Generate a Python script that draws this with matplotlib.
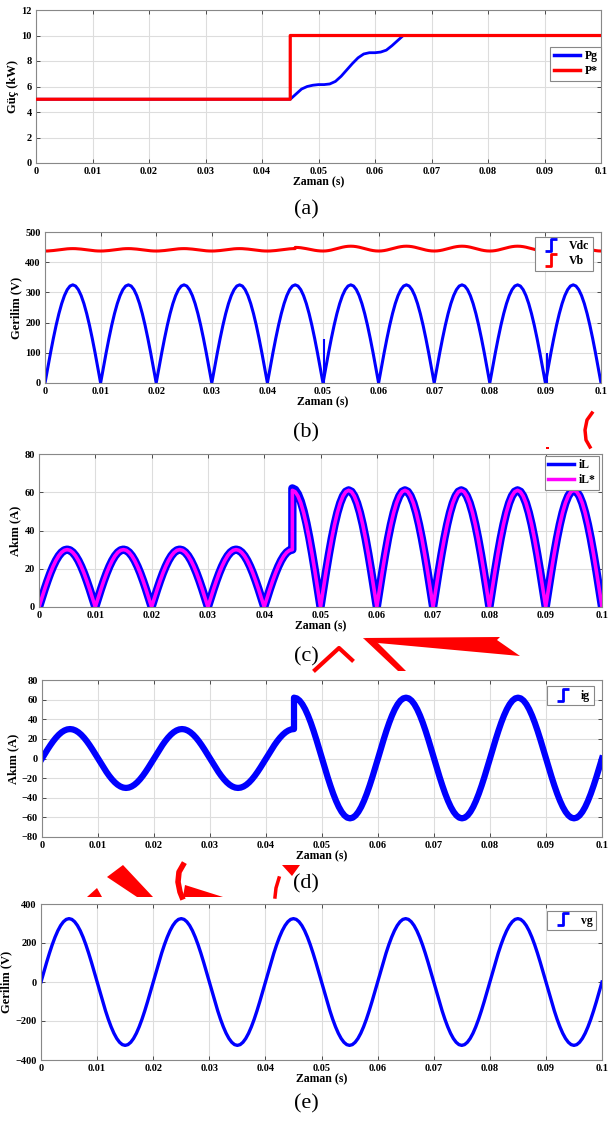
import numpy as np
import matplotlib
matplotlib.use("Agg")
import matplotlib.pyplot as plt
from matplotlib.lines import Line2D
from matplotlib.path import Path
from matplotlib.patches import Polygon
from matplotlib.transforms import Affine2D

# ---- data ----
# shape of one half-cycle (0.5 ms steps over 10 ms), peak = 1
HALF_SHAPE = [0, 0.156, 0.309, 0.454, 0.588, 0.707, 0.809, 0.891, 0.951, 0.988, 1.0,
              0.988, 0.951, 0.891, 0.809, 0.707, 0.588, 0.454, 0.309, 0.156, 0]
# ripple shape of Vb over one half-cycle, 0 at the edges, 1 in the middle
RIPPLE_SHAPE = [0, 0.024, 0.095, 0.206, 0.345, 0.5, 0.655, 0.794, 0.905, 0.976, 1.0,
                0.976, 0.905, 0.794, 0.655, 0.5, 0.345, 0.206, 0.095, 0.024, 0]
HALF_T = 0.01

# (a) power
pg_t = [0, 0.045, 0.046, 0.047, 0.048, 0.049, 0.050, 0.051, 0.052, 0.053, 0.054, 0.055,
        0.056, 0.057, 0.058, 0.059, 0.060, 0.061, 0.062, 0.063, 0.064, 0.065, 0.1]
pg_v = [5, 5, 5.4, 5.8, 6.0, 6.1, 6.15, 6.15, 6.2, 6.4, 6.8, 7.3,
        7.8, 8.25, 8.55, 8.65, 8.65, 8.7, 8.85, 9.2, 9.6, 10, 10]
pref_t = [0, 0.045, 0.045, 0.1]
pref_v = [5, 5, 10, 10]

# (b) voltages: peak of each half-cycle (rise, fall)
vdc_peaks = [(325, 325)] * 10
vdc_spike_t = [0.0502, 0.0902]
vdc_spike_v = [145, 100]
vb_base = 437
vb_ripple = [(8, 8)] * 4 + [(8, 12)] + [(16, 16)] * 5

# (c) inductor current
il_ref_peaks = [(30, 30)] * 4 + [(30, 61)] + [(61, 61)] * 5
il_peaks = [(30, 30)] * 4 + [(30, 62)] + [(61, 61)] * 5

# (d) grid current (signed)
ig_peaks = [(30, 30), (-30, -30), (30, 30), (-30, -30), (30, 62),
            (-61, -61), (62, 62), (-61, -61), (62, 62), (-61, -61)]

# (e) grid voltage (signed)
vg_peaks = [(325, 325), (-325, -325)] * 5

BLUE = "#0000ff"
RED = "#ff0000"
MAGENTA = "#ff00ff"


def build_wave(peaks, shape):
    t, y = [], []
    n = len(shape) - 1
    mid = n // 2
    for h, (rise, fall) in enumerate(peaks):
        for k in range(n + 1):
            if h > 0 and k == 0:
                continue
            tk = h * HALF_T + k * HALF_T / n
            if k < mid:
                t.append(tk); y.append(rise * shape[k])
            elif k == mid:
                t.append(tk); y.append(rise * shape[k])
                if fall != rise:
                    t.append(tk); y.append(fall * shape[k])
            else:
                t.append(tk); y.append(fall * shape[k])
    return np.array(t), np.array(y)


plt.rcParams["font.family"] = ["Liberation Serif", "DejaVu Serif"]
plt.rcParams["font.weight"] = "bold"

W, H = 609, 1124
fig = plt.figure(figsize=(W / 100, H / 100), dpi=100)


def add_ax(left, top, right, bottom):
    return fig.add_axes([left / W, 1 - bottom / H, (right - left) / W, (bottom - top) / H])


def style(ax, ylim, yticks, ylabel):
    ax.set_xlim(0, 0.1)
    ax.set_ylim(*ylim)
    ax.set_xticks(np.arange(0, 0.1001, 0.01))
    ax.set_xticklabels(["0"] + ["%.2f" % v for v in np.arange(0.01, 0.0951, 0.01)] + ["0.1"])
    ax.set_yticks(yticks)
    ax.grid(True, color="#dddddd", lw=0.8)
    ax.tick_params(direction="in", top=True, right=True, length=3, width=0.6,
                   labelsize=7.5, pad=3, colors="#333333", labelcolor="black")
    for s in ax.spines.values():
        s.set_color("#888888")
        s.set_linewidth(0.8)
    ax.set_xlabel("Zaman (s)", fontsize=8.5, fontweight="bold", labelpad=0)
    ax.set_ylabel(ylabel, fontsize=9, fontweight="bold", labelpad=2)


step_marker = Path([(-1, -1), (0, -1), (0, 1), (1, 1)])


def step_handle(color):
    return Line2D([0], [0], color=color, linestyle="none", marker=step_marker,
                  markersize=9, markerfacecolor="none", markeredgewidth=2)


def legend(ax, handles, labels, x, y):
    lg = ax.legend(handles, labels, loc="upper right", bbox_to_anchor=(x, y),
                   fancybox=False, framealpha=1, edgecolor="#888888",
                   prop={"size": 8.5, "weight": "bold"}, borderpad=0.3,
                   handlelength=2.2, handletextpad=0.4, labelspacing=0.25,
                   borderaxespad=0, numpoints=1)
    lg.get_frame().set_linewidth(0.8)


# (a)
ax = add_ax(36, 10, 601, 163)
ax.plot(pg_t, pg_v, color=BLUE, lw=2, zorder=2, snap=False)
ax.plot(pref_t, pref_v, color=RED, lw=2.3, zorder=3, snap=False)
style(ax, (0, 12), range(0, 13, 2), "Güç (kW)")
legend(ax, [Line2D([0], [0], color=BLUE, lw=2.5), Line2D([0], [0], color=RED, lw=2.5)],
       ["Pg", "P*"], 1.0, 0.76)

# (b)
ax = add_ax(45, 232, 601, 383)
t, y = build_wave(vdc_peaks, HALF_SHAPE)
ax.plot(t, y, color=BLUE, lw=2.2)
ax.vlines(vdc_spike_t, 0, vdc_spike_v, color=BLUE, lw=1.5)
t, y = build_wave(vb_ripple, RIPPLE_SHAPE)
ax.plot(t, vb_base + y, color=RED, lw=2.2)
style(ax, (0, 500), range(0, 501, 100), "Gerilim (V)")
legend(ax, [step_handle(BLUE), step_handle(RED)], ["Vdc", "Vb"], 0.985, 0.97)

# (c)
ax = add_ax(39, 454, 602, 607)
t, y = build_wave(il_peaks, HALF_SHAPE)
ax.plot(t, y, color=BLUE, lw=6)
t, y = build_wave(il_ref_peaks, HALF_SHAPE)
ax.plot(t, y, color=MAGENTA, lw=2.6)
style(ax, (0, 80), range(0, 81, 20), "Akım (A)")
legend(ax, [Line2D([0], [0], color=BLUE, lw=2.5), Line2D([0], [0], color=MAGENTA, lw=2.5)],
       ["iL", "iL*"], 0.995, 0.99)

# (d)
ax = add_ax(42, 680, 602, 837)
t, y = build_wave(ig_peaks, HALF_SHAPE)
ax.plot(t, y, color=BLUE, lw=4.5)
style(ax, (-80, 80), range(-80, 81, 20), "Akım (A)")
legend(ax, [step_handle(BLUE)], ["ig"], 0.985, 0.96)

# (e)
ax = add_ax(41, 904, 602, 1060)
t, y = build_wave(vg_peaks, HALF_SHAPE)
ax.plot(t, y, color=BLUE, lw=2.4)
style(ax, (-400, 400), range(-400, 401, 200), "Gerilim (V)")
legend(ax, [step_handle(BLUE)], ["vg"], 0.99, 0.955)

# captions
for lab, yc in [("(a)", 210), ("(b)", 433), ("(c)", 657), ("(d)", 884), ("(e)", 1104)]:
    fig.text(306 / W, 1 - yc / H, lab, ha="center", va="center", fontsize=16,
             fontweight="normal")

# red marks drawn over the figure in the reference
px = Affine2D().scale(1 / W, -1 / H).translate(0, 1) + fig.transFigure
marks = [
    [(363, 638), (500, 637), (497, 640), (520, 656), (378, 643)],
    [(363, 638), (375, 640), (406, 671), (398, 671)],
    [(107, 877), (123, 865), (153, 897), (137, 897)],
    [(87, 897), (97, 888), (102, 897)],
    [(185, 885), (223, 897), (183, 897)],
    [(282, 865), (300, 865), (292, 876)],
    [(546, 447), (549, 447), (549, 449), (546, 449)],
]
for pts in marks:
    fig.patches.append(Polygon(pts, closed=True, fc=RED, ec="none", transform=px))
strokes = [
    ([592, 587, 585, 586, 590], [413, 420, 430, 440, 447], 2.5),
    ([315, 339, 352], [670, 648, 660], 3),
    ([183, 179, 178, 180, 182], [865, 872, 882, 892, 897], 4),
    ([279, 276, 275], [878, 888, 897], 2.5),
]
for xs, ys, lw in strokes:
    fig.lines.append(Line2D(xs, ys, color=RED, lw=lw, transform=px))

fig.savefig("out.png", dpi=100)
